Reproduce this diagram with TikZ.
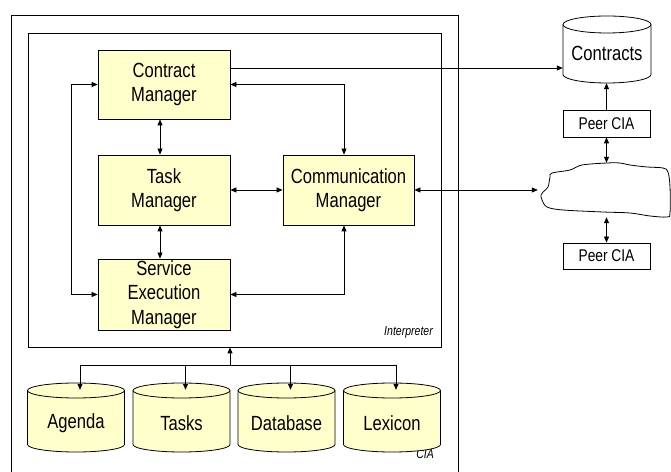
\documentclass[tikz,border=0pt]{standalone}
\usepackage{fontspec}
\setmainfont{Liberation Sans}[FakeStretch=0.81]
\usetikzlibrary{arrows.meta,calc}
\definecolor{boxyellow}{RGB}{255,255,204}
\newcommand{\mycyl}[9]{% #1 name, #2 cx, #3 Ybot, #4 Ytop, #5 halfwidth, #6 ry, #7 fill, #8 text, #9 text Y
  \path[draw, fill=#7, line width=0.8pt] (#2-#5, #4-#6) -- (#2-#5, #3+#6)
    arc[start angle=180, end angle=360, x radius=#5, y radius=#6] -- (#2+#5, #4-#6)
    arc[start angle=0, end angle=180, x radius=#5, y radius=#6] -- cycle;
  \draw[line width=0.8pt] (#2-#5, #4-#6) arc[start angle=180, end angle=360, x radius=#5, y radius=#6];
  \node[inner sep=0pt, minimum width=2*#5, minimum height=#4-#3] (#1) at (#2, {(#3+#4)/2}) {};
  \node[inner sep=0pt, font=\fontsize{20.5}{24}\selectfont] (#1-t) at (#2, #9) {#8};
}
\begin{document}
\begin{tikzpicture}[x=1pt,y=1pt,
  mgr/.style={draw, fill=boxyellow, line width=0.8pt, minimum width=132pt, minimum height=70pt, align=center, font=\fontsize{20.5}{24.5}\selectfont, inner sep=0pt},
  conn/.style={line width=0.8pt, -{Triangle[length=6pt,width=5pt]}},
  bconn/.style={line width=0.8pt, {Triangle[length=6pt,width=5pt]}-{Triangle[length=6pt,width=5pt]}},
  plain/.style={line width=0.8pt},
  peer/.style={draw, line width=0.8pt, fill=white, minimum width=87pt, minimum height=26pt, inner sep=0pt, font=\fontsize{17}{20}\selectfont},
  frame/.style={draw, line width=0.8pt, inner sep=0pt},
  tag/.style={anchor=base east, inner sep=0pt, font=\fontsize{13}{15}\selectfont\itshape}
]
\useasboundingbox (0,0) rectangle (671,471);
\fill[white] (0,0) rectangle (671,471);

% frames
\node[frame, minimum width=447pt, minimum height=459pt] (cia) at (234.5,226.5) {};
\node[frame, minimum width=413pt, minimum height=314pt] (interp) at (234.5,281) {};
\node[tag] (interplabel) at (433,135) {Interpreter};
\node[tag] (cialabel) at (434,13) {CIA};

% managers
\node[mgr, minimum height=69pt] (cm) at (164,386.5) {Contract\\Manager};
\node[mgr] (tm) at (164,281) {Task\\Manager};
\node[mgr, minimum width=131pt] (com) at (348.5,281) {Communication\\Manager};
\node[mgr, minimum height=71pt] (sem) at (164,176.5) {Service\\Execution\\Manager};

% manager connectors
\draw[bconn] ($(cm.south)+(-4,0)$) -- ($(tm.north)+(-4,0)$);
\draw[bconn] ($(tm.south)+(-4,0)$) -- ($(sem.north)+(-4,0)$);
\draw[bconn] (tm.east) -- (com.west);
\draw[bconn] (cm.east) -| ($(com.north)+(-4.5,0)$);
\draw[bconn] (cm.west) -- ++(-26,0) |- (sem.west);
\draw[bconn] (sem.east) -| ($(com.south)+(-4.5,0)$);

% storage cylinders
\mycyl{agenda}{76}{19}{88}{48.5}{7.5}{boxyellow}{Agenda}{48}
\mycyl{tasks}{181.5}{19}{88}{48.5}{7.5}{boxyellow}{Tasks}{48}
\mycyl{database}{286.5}{19}{88}{48.5}{7.5}{boxyellow}{Database}{48}
\mycyl{lexicon}{392}{19}{88}{48.5}{7.5}{boxyellow}{Lexicon}{48}

\coordinate (hub) at (230,106);
\draw[conn] (hub) -- (hub |- interp.south);
\draw[conn] (hub) -| ($(agenda.north)+(4,-7)$);
\draw[conn] (hub) -| ($(lexicon.north)+(4,-7)$);
\draw[conn] ($(tasks.north)+(4,18)$) -- ($(tasks.north)+(4,-7)$);
\draw[conn] ($(database.north)+(4,18)$) -- ($(database.north)+(4,-7)$);

% right side
\mycyl{contracts}{607}{388}{455}{44}{8.5}{white}{Contracts}{418}
\node[peer, minimum height=27pt] (peer1) at (606.5,347.5) {Peer CIA};
\node[peer] (peer2) at (606.5,215) {Peer CIA};
\node[inner sep=0pt, minimum width=133pt, minimum height=54pt] (cloud) at (604.5,281) {};
\draw[plain] plot[smooth cycle, tension=0.55] coordinates {
 (552,298) (570,301) (582,306) (607,308) (620,308) (630,306) (647,304) (663,303) (668,299)
 (670,284) (670,258) (667,254) (650,255) (630,258) (603,259) (563,261) (547,264) (542,271)
 (541,276) (543,279) (548,284) (550,294)};

\draw[conn] ($(cm.east)+(0,16.5)$) coordinate (c1) -- (c1 -| contracts.west);
\draw[conn] (peer1.north) -- (peer1.north |- contracts.south);
\draw[bconn] (peer1.south) -- (peer1.south |- cloud.north);
\draw[bconn] (cloud.south -| peer2.north) -- (peer2.north);
\draw[bconn] (com.east) -- (cloud.west);
\end{tikzpicture}
\end{document}
